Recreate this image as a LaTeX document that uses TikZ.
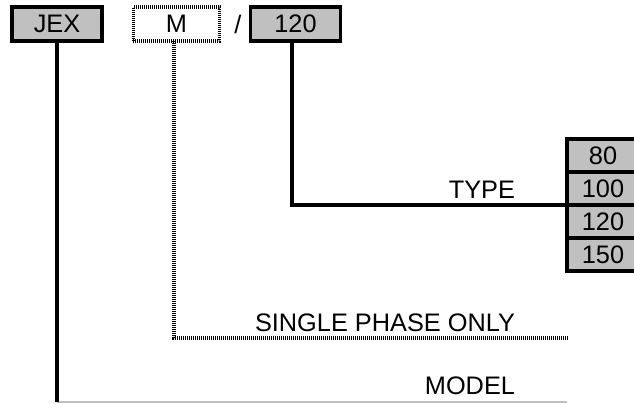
\documentclass[tikz,border=0pt]{standalone}
\usepackage{fontspec}
\setmainfont{Liberation Sans}
\begin{document}
\begin{tikzpicture}[x=0.75pt,y=-0.75pt,
  every node/.style={font=\fontsize{19}{22}\selectfont, inner sep=0pt, outer sep=0pt},
  codebox/.style={draw=black, line width=2.4pt, fill=boxgray, minimum width=67.5pt, minimum height=25.5pt},
  optbox/.style={draw=black, line width=2.4pt, dash pattern=on 0.75pt off 0.75pt, minimum width=65pt, minimum height=25.5pt},
  stackbox/.style={draw=black, line width=2.4pt, fill=boxgray, minimum width=60pt, minimum height=24.75pt},
  lead/.style={line width=2.4pt},
  optlead/.style={line width=2.4pt, dash pattern=on 0.75pt off 0.75pt},
  modelline/.style={line width=0.9pt, draw=black!25},
  lbl/.style={anchor=base east}]
\definecolor{boxgray}{RGB}{192,192,192}
\useasboundingbox (0,0) rectangle (634,403);
% top code boxes
\node[codebox] (jex) at (57,24) {JEX};
\node[optbox] (m) at (176.5,24) {M};
\node (slash) at (238,24) {/};
\node[codebox] (t) at (295.5,24) {120};
% stack
\node[stackbox] (s80) at (607,155.5) {\hspace*{-6pt}80};
\node[stackbox] (s100) at (607,188.5) {\hspace*{-6pt}100};
\node[stackbox] (s120) at (607,221.5) {\hspace*{-6pt}120};
\node[stackbox] (s150) at (607,254.5) {\hspace*{-6pt}150};
% leaders
\coordinate (tc) at (292,41);
\coordinate (tturn) at (292,205);
\draw[lead] (tc) -- (tturn) -- (s100.south west);
\coordinate (mc) at (174,41);
\coordinate (mturn) at (174,338);
\coordinate (mend) at (568,338);
\draw[optlead] (mc) -- (mturn) -- (mend);
\coordinate (jc) at (57,41);
\coordinate (jturn) at (57,402);
\coordinate (jend) at (567,402);
\draw[modelline] (jturn) -- (jend);
\draw[lead] (jc) -- (jturn);
% labels
\node[lbl] (ltype) at (515,198) {TYPE};
\node[lbl] (lsingle) at (515,331) {SINGLE PHASE ONLY};
\node[lbl] (lmodel) at (515,394) {MODEL};
\end{tikzpicture}
\end{document}
